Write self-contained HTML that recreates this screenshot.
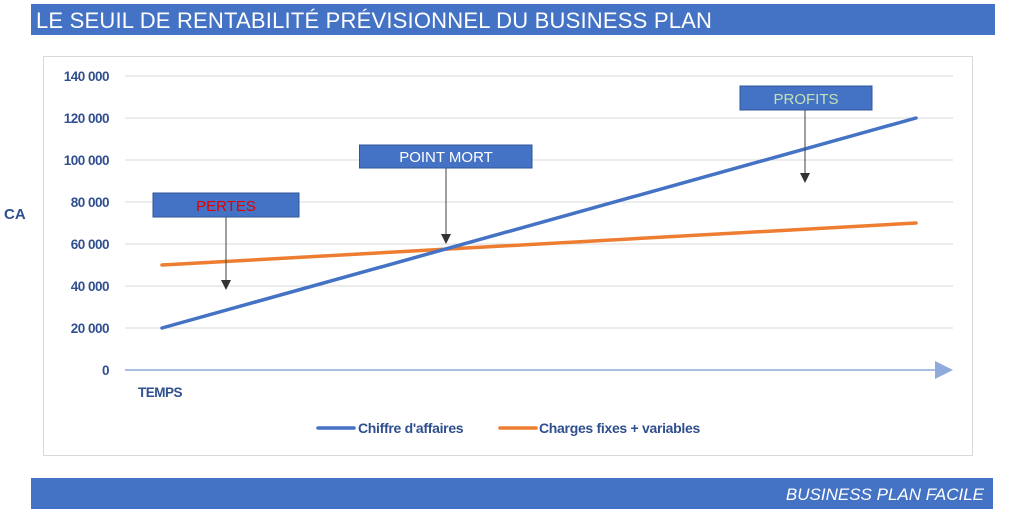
<!DOCTYPE html>
<html><head><meta charset="utf-8"><style>
html,body{margin:0;padding:0;background:#fff;width:1024px;height:514px;overflow:hidden}
svg text{font-family:"Liberation Sans",sans-serif}
</style></head><body>
<svg width="1024" height="514" viewBox="0 0 1024 514" xmlns="http://www.w3.org/2000/svg">
<rect x="31" y="4" width="964" height="31" fill="#4472C4"/>
<text x="36" y="28" font-size="22" fill="#fff" letter-spacing="0.2">LE SEUIL DE RENTABILITÉ PRÉVISIONNEL DU BUSINESS PLAN</text>
<rect x="43.5" y="56.5" width="929" height="399" fill="#fff" stroke="#d9d9d9"/>
<g stroke="#d9d9d9" stroke-width="1">
<line x1="125" y1="76" x2="953" y2="76"/><line x1="125" y1="118" x2="953" y2="118"/>
<line x1="125" y1="160" x2="953" y2="160"/><line x1="125" y1="202" x2="953" y2="202"/>
<line x1="125" y1="244" x2="953" y2="244"/><line x1="125" y1="286" x2="953" y2="286"/>
<line x1="125" y1="328" x2="953" y2="328"/>
</g>
<line x1="125" y1="370" x2="936" y2="370" stroke="#8FAADC" stroke-width="1.5"/>
<polygon points="935,361 953,370 935,379" fill="#8FAADC"/>
<g font-size="13.5" font-weight="bold" fill="#2F4F8F" text-anchor="end" letter-spacing="-0.5">
<text x="109" y="81">140 000</text><text x="109" y="123">120 000</text>
<text x="109" y="165">100 000</text><text x="109" y="207">80 000</text>
<text x="109" y="249">60 000</text><text x="109" y="291">40 000</text>
<text x="109" y="333">20 000</text><text x="109" y="375">0</text>
</g>
<text x="4" y="219" font-size="15" font-weight="bold" fill="#2F4F8F">CA</text>
<text x="138" y="397" font-size="13.5" font-weight="bold" fill="#2F4F8F" letter-spacing="-0.5">TEMPS</text>
<line x1="162" y1="265" x2="916" y2="223" stroke="#ED7D31" stroke-width="3.5" stroke-linecap="round"/>
<line x1="162" y1="328" x2="916" y2="118" stroke="#4472C4" stroke-width="3.5" stroke-linecap="round"/>
<g stroke="#404040" stroke-width="1">
<line x1="226" y1="217" x2="226" y2="282"/><line x1="446" y1="168" x2="446" y2="235"/><line x1="805" y1="110" x2="805" y2="175"/>
</g>
<g fill="#333">
<polygon points="221,280 231,280 226,290"/><polygon points="441,234 451,234 446,244"/><polygon points="800,173 810,173 805,183"/>
</g>
<rect x="153" y="193" width="146" height="24" fill="#4472C4" stroke="#2F5597"/>
<text x="226" y="211" font-size="15" fill="#E00000" text-anchor="middle">PERTES</text>
<rect x="359.5" y="145" width="172.5" height="23" fill="#4472C4" stroke="#2F5597"/>
<text x="446" y="162" font-size="15" fill="#fff" text-anchor="middle">POINT MORT</text>
<rect x="740" y="86" width="132" height="24" fill="#4472C4" stroke="#2F5597"/>
<text x="806" y="104" font-size="15" fill="#C5E0B4" text-anchor="middle">PROFITS</text>
<line x1="318" y1="428" x2="354" y2="428" stroke="#4472C4" stroke-width="3.5" stroke-linecap="round"/>
<text x="358" y="433" font-size="14" font-weight="bold" fill="#2F4F8F" letter-spacing="-0.3">Chiffre d'affaires</text>
<line x1="500" y1="428" x2="536" y2="428" stroke="#ED7D31" stroke-width="3.5" stroke-linecap="round"/>
<text x="539" y="433" font-size="14" font-weight="bold" fill="#2F4F8F" letter-spacing="-0.3">Charges fixes + variables</text>
<rect x="31" y="478" width="962" height="31" fill="#4472C4"/>
<text x="984" y="500" font-size="17" font-style="italic" fill="#fff" text-anchor="end">BUSINESS PLAN FACILE</text>
</svg>
</body></html>
